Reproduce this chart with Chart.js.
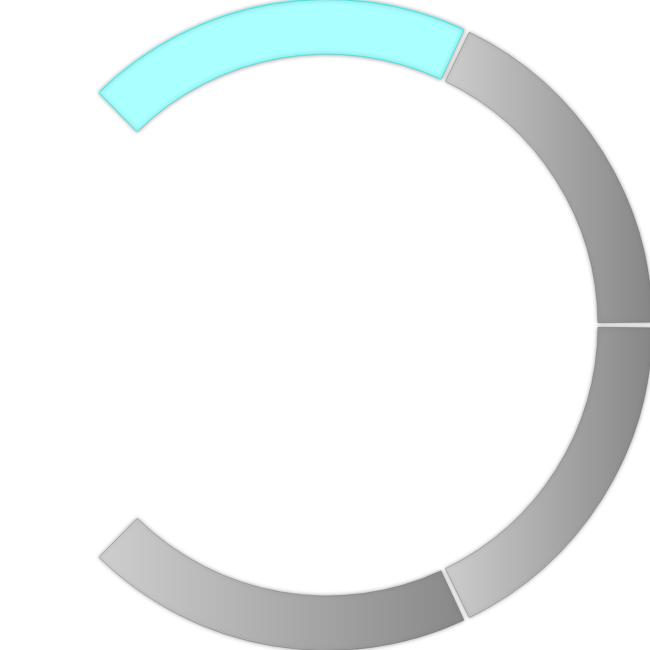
<!DOCTYPE html>
<html>
<head>
<meta charset="utf-8">
<script src="https://cdn.jsdelivr.net/npm/chart.js@4"></script>
<style>
  html, body { margin: 0; padding: 0; background: #ffffff; }
  #wrap { width: 650px; height: 650px; }
</style>
</head>
<body>
<div id="wrap"><canvas id="c"></canvas></div>
<script>
const labels = ['A', 'B', 'C', 'D'];
const values = [12, 11, 11, 12];
const fillColors = ['#aaffff', '#bbbbbb', '#bbbbbb', '#bbbbbb'];
const edgeColors = ['#33eeee', 'rgba(100,100,100,0.35)', 'rgba(100,100,100,0.35)', 'rgba(100,100,100,0.35)'];
const gradientStops = ['#cecece', '#888888'];

const gradPlugin = {
  id: 'gradFill',
  beforeDatasetDraw(chart, args) {
    const ctx = chart.ctx;
    args.meta.data.forEach((arc, i) => {
      if (i === 0) return;
      const p = arc.getProps(['x', 'y', 'startAngle', 'endAngle', 'outerRadius', 'innerRadius'], true);
      const xs = [];
      [p.startAngle, p.endAngle].forEach(a => {
        xs.push(p.x + Math.cos(a) * p.outerRadius, p.x + Math.cos(a) * p.innerRadius);
      });
      const TAU = Math.PI * 2;
      [0, Math.PI].forEach(t => {
        for (let k = -2; k <= 2; k++) {
          const a = t + k * TAU;
          if (a >= p.startAngle && a <= p.endAngle) xs.push(p.x + Math.cos(a) * p.outerRadius);
        }
      });
      const minX = Math.min(...xs), maxX = Math.max(...xs);
      const g = ctx.createLinearGradient(minX, 0, maxX, 0);
      g.addColorStop(0, gradientStops[0]);
      g.addColorStop(1, gradientStops[1]);
      arc.options = Object.assign({}, arc.options, { backgroundColor: g });
    });
    ctx.save();
    ctx.shadowColor = 'rgba(0,0,0,0.4)';
    ctx.shadowBlur = 4;
  },
  afterDatasetDraw(chart) {
    chart.ctx.restore();
  }
};

new Chart(document.getElementById('c'), {
  type: 'doughnut',
  data: {
    labels: labels,
    datasets: [{
      data: values,
      backgroundColor: fillColors,
      borderColor: edgeColors,
      borderWidth: 1,
      spacing: 9,
      hoverOffset: 0
    }]
  },
  options: {
    responsive: true,
    maintainAspectRatio: false,
    animation: false,
    rotation: -45,
    circumference: 270,
    cutout: '83%',
    radius: 321,
    layout: { padding: { left: 98 } },
    plugins: { legend: { display: false }, tooltip: { enabled: false } }
  },
  plugins: [gradPlugin]
});
</script>
</body>
</html>
